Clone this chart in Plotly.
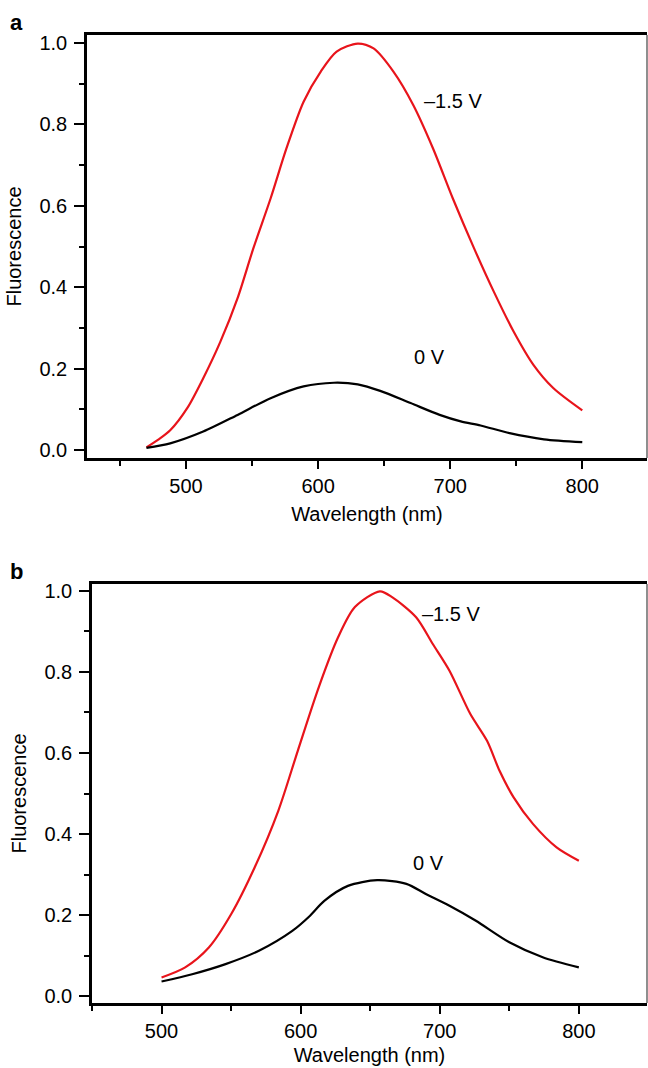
import plotly.graph_objects as go
from plotly.subplots import make_subplots

# panel a
wl_a_red = [470, 479, 488, 501, 513, 526, 539, 551, 564, 576, 589, 602, 614, 630, 642, 657,
            672, 687, 702, 718, 733, 748, 763, 778, 800]
fl_a_red = [0.006, 0.025, 0.048, 0.103, 0.176, 0.266, 0.373, 0.496, 0.618, 0.741, 0.856, 0.930, 0.979,
            0.999, 0.987, 0.930, 0.848, 0.741, 0.618, 0.496, 0.389, 0.291, 0.209, 0.152, 0.097]
wl_a_blk = [470, 488, 513, 539, 564, 589, 612, 630, 647, 670, 692, 708, 723, 745, 771, 800]
fl_a_blk = [0.005, 0.016, 0.045, 0.086, 0.127, 0.156, 0.165, 0.161, 0.145, 0.115, 0.086,
            0.070, 0.060, 0.041, 0.026, 0.019]

# panel b
wl_b_red = [500, 517, 534, 550, 567, 584, 598, 613, 627, 639, 657, 666, 683, 695, 707,
            722, 734, 743, 753, 767, 784, 800]
fl_b_red = [0.046, 0.071, 0.120, 0.202, 0.318, 0.458, 0.606, 0.762, 0.886, 0.960, 0.999,
            0.984, 0.935, 0.869, 0.803, 0.696, 0.630, 0.556, 0.491, 0.425, 0.367, 0.334]
wl_b_blk = [500, 522, 546, 570, 594, 606, 617, 634, 655, 676, 690, 707, 726, 750, 774, 800]
fl_b_blk = [0.036, 0.054, 0.079, 0.112, 0.161, 0.196, 0.235, 0.272, 0.286, 0.277, 0.252,
            0.223, 0.186, 0.133, 0.096, 0.071]

fnt = "Liberation Sans, Arial, Helvetica, sans-serif"
W, H = 648, 1068
RED = '#e8141b'

fig = make_subplots(rows=2, cols=1)

def curve(x, y, color, row):
    fig.add_trace(go.Scatter(x=x, y=y, mode='lines', line=dict(color=color, width=2.2,
                                                              shape='spline', smoothing=0.8)),
                  row=row, col=1)

curve(wl_a_red, fl_a_red, RED, 1)
curve(wl_a_blk, fl_a_blk, 'black', 1)
curve(wl_b_red, fl_b_red, RED, 2)
curve(wl_b_blk, fl_b_blk, 'black', 2)

xax = dict(showline=True, linecolor='black', linewidth=2.5, mirror=True, showgrid=False, zeroline=False,
           automargin=False,
           ticks='outside', ticklen=8, tickwidth=2, tickcolor='black', dtick=100, tick0=0,
           ticklabelstandoff=0,
           minor=dict(ticks='outside', ticklen=5, tickwidth=2, tickcolor='black', dtick=50),
           tickfont=dict(family=fnt, size=20, color='black'),
           title=dict(text='Wavelength (nm)', font=dict(family=fnt, size=20, color='black'), standoff=12))
yax = dict(showline=True, linecolor='black', linewidth=2.5, showgrid=False, zeroline=False,
           automargin=False,
           ticks='outside', ticklen=10, tickwidth=2, tickcolor='black', dtick=0.2, tick0=0,
           tickformat='.1f', ticklabelstandoff=3,
           minor=dict(ticks='outside', ticklen=5, tickwidth=2, tickcolor='black', dtick=0.1),
           tickfont=dict(family=fnt, size=20, color='black'),
           title=dict(text='Fluorescence', font=dict(family=fnt, size=20, color='black'), standoff=13))

fig.update_layout(
    width=W, height=H, margin=dict(l=0, r=0, t=0, b=0, autoexpand=False),
    paper_bgcolor='white', plot_bgcolor='white', showlegend=False,
    xaxis=dict(xax, domain=[87 / W, 647 / W], range=[425, 849]),
    yaxis=dict(yax, domain=[1 - 458 / H, 1 - 35 / H], range=[-0.02, 1.02]),
    xaxis2=dict(xax, domain=[92 / W, 647 / W], range=[450, 849]),
    yaxis2=dict(yax, domain=[1 - 1003 / H, 1 - 584 / H], range=[-0.017, 1.017]),
)
# bottom title of panel b sits right at the page edge, pull it in a little
fig.update_xaxes(title_standoff=8, row=2, col=1)

# thin right-hand frame
for xr, yr in (('x', 'y'), ('x2', 'y2')):
    fig.add_shape(type='line', xref=xr + ' domain', yref=yr + ' domain', x0=1, x1=1, y0=0, y1=1,
                  line=dict(color='#444444', width=1.2))

ann_font = dict(family=fnt, size=20, color='black')
fig.add_annotation(x=679, y=0.857, xref='x', yref='y', text='\u20131.5 V', showarrow=False,
                   xanchor='left', font=ann_font)
fig.add_annotation(x=671, y=0.228, xref='x', yref='y', text='0 V', showarrow=False,
                   xanchor='left', font=ann_font)
fig.add_annotation(x=686, y=0.943, xref='x2', yref='y2', text='\u20131.5 V', showarrow=False,
                   xanchor='left', font=ann_font)
fig.add_annotation(x=679, y=0.328, xref='x2', yref='y2', text='0 V', showarrow=False,
                   xanchor='left', font=ann_font)

fig.add_annotation(x=8 / W, y=1 - 23 / H, xref='paper', yref='paper', text='<b>a</b>', showarrow=False,
                   xanchor='left', yanchor='middle', font=dict(family=fnt, size=22, color='black'))
fig.add_annotation(x=8 / W, y=1 - 571 / H, xref='paper', yref='paper', text='<b>b</b>', showarrow=False,
                   xanchor='left', yanchor='middle', font=dict(family=fnt, size=22, color='black'))

fig.write_html("out.html", config={'displayModeBar': False},
               post_script="document.body.style.margin='0';document.body.style.overflow='hidden';")
